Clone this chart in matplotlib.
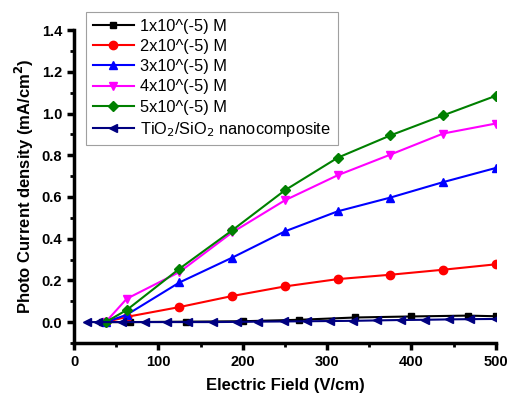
import matplotlib
matplotlib.use("Agg")
import matplotlib.pyplot as plt
from matplotlib.ticker import MultipleLocator

plt.rcParams['font.family'] = ['Liberation Sans', 'DejaVu Sans']

x_main = [37.5, 62.5, 125, 187.5, 250, 312.5, 375, 437.5, 500]
c1_x = [33.3, 66.7, 133.3, 200, 266.7, 333.3, 400, 466.7, 500]
c1_y = [0.0, 0.0, 0.002, 0.004, 0.011, 0.022, 0.027, 0.031, 0.028]
c2_y = [0.0, 0.025, 0.072, 0.125, 0.171, 0.206, 0.227, 0.251, 0.277]
c3_y = [0.0, 0.035, 0.19, 0.309, 0.435, 0.531, 0.597, 0.671, 0.739]
c4_y = [0.0, 0.112, 0.24, 0.43, 0.584, 0.704, 0.803, 0.904, 0.952]
c5_y = [0.0, 0.058, 0.256, 0.44, 0.632, 0.788, 0.895, 0.991, 1.085]
ts_x = [15, 29, 56.5, 84, 110, 135, 165, 193, 218, 249, 276, 303, 331, 359, 388, 416, 445, 469, 500]
ts_y = [0.0, 0.0, 0.0, 0.0, 0.0, 0.0, 0.0, 0.001, 0.002, 0.003, 0.004, 0.005, 0.006, 0.008, 0.01, 0.011, 0.013, 0.014, 0.015]

labels = ["1x10^(-5) M", "2x10^(-5) M", "3x10^(-5) M", "4x10^(-5) M", "5x10^(-5) M",
          "TiO$_2$/SiO$_2$ nanocomposite"]

fig = plt.figure(figsize=(5.07, 3.96), dpi=100)
ax = fig.add_axes([0.146, 0.134, 0.832, 0.790])

lw = 1.5
ms = 6
ax.plot(c1_x, c1_y, color='black', marker='s', lw=lw, ms=ms-1, label=labels[0])
ax.plot(x_main, c2_y, color='#ff0000', marker='o', lw=lw, ms=ms, label=labels[1])
ax.plot(x_main, c3_y, color='#0000ff', marker='^', lw=lw, ms=ms, label=labels[2])
ax.plot(x_main, c4_y, color='#ff00ff', marker='v', lw=lw, ms=ms, label=labels[3])
ax.plot(x_main, c5_y, color='#008000', marker='D', lw=lw, ms=ms-1, label=labels[4])
ax.plot(ts_x, ts_y, color='#000080', marker='<', lw=lw, ms=ms, label=labels[5])

ax.set_xlim(0, 500)
ax.set_ylim(-0.1, 1.4)
ax.xaxis.set_major_locator(MultipleLocator(100))
ax.xaxis.set_minor_locator(MultipleLocator(50))
ax.yaxis.set_major_locator(MultipleLocator(0.2))
ax.yaxis.set_minor_locator(MultipleLocator(0.1))
ax.yaxis.set_major_formatter(matplotlib.ticker.FormatStrFormatter('%.1f'))

for s in ['top', 'right']:
    ax.spines[s].set_visible(False)
for s in ['left', 'bottom']:
    ax.spines[s].set_linewidth(2.5)
ax.tick_params(which='major', direction='out', length=5, width=2.5, labelsize=10.5)
ax.tick_params(which='minor', direction='out', length=3, width=2)
for t in ax.get_xticklabels() + ax.get_yticklabels():
    t.set_fontweight('bold')

ax.set_xlabel('Electric Field (V/cm)', fontsize=12, fontweight='bold', labelpad=7)
ax.set_ylabel('Photo Current density (mA/cm$^\\mathbf{2}$)', fontsize=12, fontweight='bold', labelpad=4)

leg = ax.legend(loc='upper left', bbox_to_anchor=(86/507, 1-12/396), bbox_transform=fig.transFigure,
                fontsize=11.8, frameon=True, fancybox=False, edgecolor='#888888',
                handlelength=2.5, handletextpad=0.4, labelspacing=0.32, borderpad=0.4,
                borderaxespad=0)
leg.get_frame().set_linewidth(0.8)

fig.savefig('out.png', dpi=100)
